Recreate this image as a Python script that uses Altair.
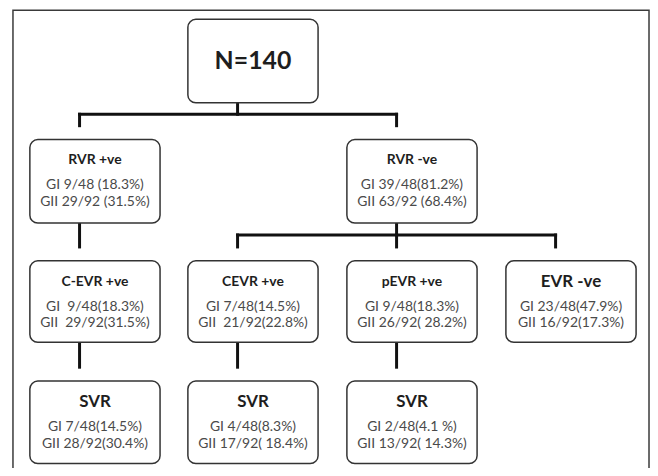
import altair as alt
import pandas as pd

# ---- content ----
NB = "\u00a0"
titles = ["N=140", "RVR +ve", "RVR -ve", "C-EVR +ve", "CEVR +ve", "pEVR +ve",
          "EVR -ve", "SVR", "SVR", "SVR"]
gi_text = ["", "GI 9/48 (18.3%)", "GI 39/48(81.2%)", "GI " + NB + "9/48(18.3%)", "GI 7/48(14.5%)",
           "GI 9/48(18.3%)", "GI 23/48(47.9%)", "GI 7/48(14.5%)", "GI 4/48(8.3%)",
           "GI 2/48(4.1 %)"]
gii_text = ["", "GII 29/92 (31.5%)", "GII 63/92 (68.4%)", "GII " + NB + "29/92(31.5%)",
            "GII " + NB + "21/92(22.8%)", "GII 26/92( 28.2%)", "GII 16/92(17.3%)",
            "GII 28/92(30.4%)", "GII 17/92( 18.4%)", "GII 13/92( 14.3%)"]
edge_parent = [0, 0, 1, 2, 2, 2, 3, 4, 5]
edge_child = [1, 2, 3, 4, 5, 6, 7, 8, 9]

# ---- layout (grid) ----
node_col = [1, 0, 2, 0, 1, 2, 3, 0, 1, 2]
node_row = [0, 1, 1, 2, 2, 2, 2, 3, 3, 3]
col_left = [30, 189, 349, 509]
row_top = [18, 139, 261, 382]
row_bottom = [102, 223, 343, 465]
box_w = 131
title_size = [25, 14, 14, 14, 14, 14, 17, 17, 17, 17]

W, H = 646, 460
X0, Y0 = 8, 8

nodes = []
for i, t in enumerate(titles):
    c, r = node_col[i], node_row[i]
    x1 = col_left[c]
    top, bot = row_top[r], row_bottom[r]
    nodes.append(dict(
        id=i, title=t, gi=gi_text[i], gii=gii_text[i],
        x1=x1, x2=x1 + box_w, y1=top, y2=bot, cx=x1 + box_w / 2,
        ty=(top + bot) / 2 if r == 0 else top + 21,
        giy=top + 46, giiy=top + 63, size=title_size[i]))
ndf = pd.DataFrame(nodes)

# connectors derived from edges
segs = []
children = {}
for p, ch in zip(edge_parent, edge_child):
    children.setdefault(p, []).append(ch)
for p, chs in children.items():
    px = col_left[node_col[p]] + 50
    pb = row_bottom[node_row[p]]
    cts = [row_top[node_row[c]] - 14 for c in chs]
    cxs = [col_left[node_col[c]] + 50 for c in chs]
    if len(chs) == 1 and cxs[0] == px:
        segs.append(dict(x=px, x2=px, y=pb, y2=cts[0]))
    else:
        bus = (pb + cts[0]) / 2
        segs.append(dict(x=px, x2=px, y=pb, y2=bus))
        segs.append(dict(x=min(cxs), x2=max(cxs), y=bus, y2=bus))
        for cx, ct in zip(cxs, cts):
            segs.append(dict(x=cx, x2=cx, y=bus, y2=ct))
sdf = pd.DataFrame(segs)

xs = alt.Scale(domain=[X0, X0 + W], nice=False, zero=False)
ys = alt.Scale(domain=[Y0, Y0 + H], nice=False, zero=False, reverse=True)

frame_df = pd.DataFrame([dict(x=13, x2=653, y=8.8, y2=490)])
frame = alt.Chart(frame_df).mark_rect(fill="white", stroke="#3a3a3a", strokeWidth=1.5, clip=False).encode(
    x=alt.X("x:Q", scale=xs, axis=None), x2="x2:Q",
    y=alt.Y("y:Q", scale=ys, axis=None), y2="y2:Q")

lines = alt.Chart(sdf).mark_rule(color="#111111", strokeWidth=3, strokeCap="square").encode(
    x=alt.X("x:Q", scale=xs, axis=None), x2="x2:Q",
    y=alt.Y("y:Q", scale=ys, axis=None), y2="y2:Q")

boxes = alt.Chart(ndf).mark_rect(fill="white", stroke="#333333", strokeWidth=1.5, cornerRadius=8).encode(
    x=alt.X("x1:Q", scale=xs, axis=None), x2="x2:Q",
    y=alt.Y("y1:Q", scale=ys, axis=None), y2="y2:Q")

title_txt = alt.Chart(ndf).mark_text(font="Lato", fontWeight="bold", color="#1e1e1e",
                                     align="center", baseline="middle").encode(
    x=alt.X("cx:Q", scale=xs, axis=None), y=alt.Y("ty:Q", scale=ys, axis=None),
    text="title:N", size=alt.Size("size:Q", scale=None, legend=None))

gi_txt = alt.Chart(ndf).mark_text(font="Lato", fontSize=14, color="#4a4a4a",
                                  align="center", baseline="middle").encode(
    x=alt.X("cx:Q", scale=xs, axis=None), y=alt.Y("giy:Q", scale=ys, axis=None),
    text="gi:N")

gii_txt = alt.Chart(ndf).mark_text(font="Lato", fontSize=14, color="#4a4a4a",
                                   align="center", baseline="middle").encode(
    x=alt.X("cx:Q", scale=xs, axis=None), y=alt.Y("giiy:Q", scale=ys, axis=None),
    text="gii:N")

chart = alt.layer(frame, lines, boxes, title_txt, gi_txt, gii_txt).properties(
    width=W, height=H, padding=0,
    autosize=alt.AutoSizeParams(type="none"),
    background="white"
).configure_view(stroke=None)

chart.save("out.html", embed_options={"renderer": "svg", "actions": False})
